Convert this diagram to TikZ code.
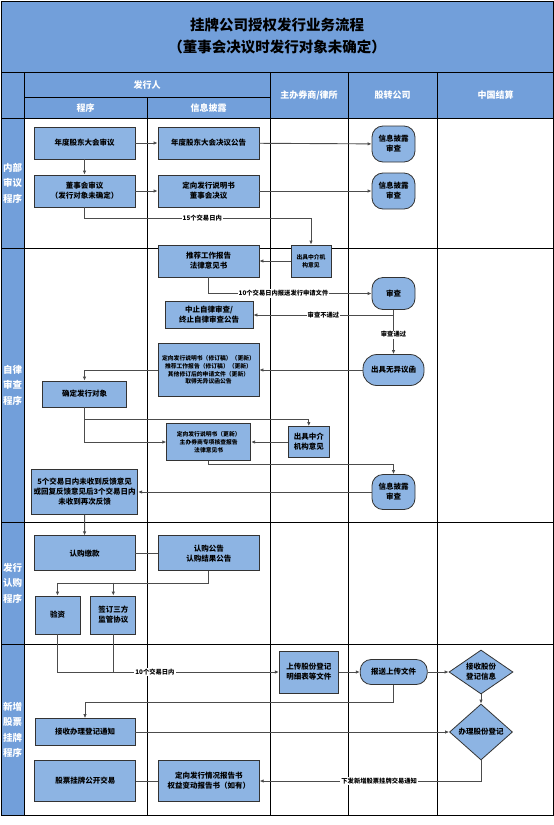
\documentclass[tikz,border=0pt]{standalone}
\usepackage{fontspec}
\setmainfont{Noto Sans CJK SC}
\usetikzlibrary{shapes.geometric,arrows.meta}
\definecolor{headblue}{RGB}{114,159,218}
\definecolor{boxblue}{RGB}{141,180,227}

\begin{document}
\begin{tikzpicture}[x=1pt,y=-1pt,
  box/.style={draw=black!80,fill=boxblue,line width=0.8pt,inner sep=1pt,align=center,
    font=\fontsize{7.5}{10}\selectfont\bfseries},
  rbox/.style={box,rounded corners=11pt},
  dbox/.style={box,diamond,aspect=1.3},
  small/.style={font=\fontsize{5.8}{7.8}\selectfont\bfseries},
  lbl/.style={fill=white,inner sep=1pt,font=\fontsize{6.3}{7}\selectfont\bfseries},
  hd/.style={text=white,font=\fontsize{9}{11}\selectfont\bfseries},
  side/.style={text=white,align=center,font=\fontsize{9.5}{15.5}\selectfont\bfseries},
  line/.style={draw=black!70,line width=0.9pt},
  arr/.style={line,-{Latex[length=4pt,width=3.5pt]}}]
  \useasboundingbox (0,0) rectangle (554,825);
  % lanes
  \fill[headblue] (1,1) rectangle (553,118);
  \fill[headblue] (1,118) rectangle (24,815);
  \draw[line width=0.8pt] (1,1) rectangle (553,815);
  \draw (1,72) -- (553,72);
  \draw (24,97) -- (270,97);
  \draw (1,118) -- (553,118);
  \foreach \y in {248,522,644} \draw (1,\y) -- (553,\y);
  \foreach \x in {24,270,348,437} \draw (\x,72) -- (\x,815);
  \draw (147,97) -- (147,815);
  \node[align=center,font=\fontsize{14.5}{22}\selectfont\bfseries] (title) at (277,36)
    {挂牌公司授权发行业务流程\\（董事会决议时发行对象未确定）};
  \node[hd] (hfxr) at (147,85) {发行人};
  \node[hd] (hcx) at (85.5,108) {程序};
  \node[hd] (hxp) at (208.5,108) {信息披露};
  \node[hd] (hqs) at (309,95) {主办券商/律所};
  \node[hd] (hgz) at (392.5,95) {股转公司};
  \node[hd] (hjs) at (495.5,95) {中国结算};
  \node[side] (rnb) at (12.5,183) {内部\\审议\\程序};
  \node[side] (rzl) at (12.5,385) {自律\\审查\\程序};
  \node[side] (rrg) at (12.5,583) {发行\\认购\\程序};
  \node[side] (rgp) at (12.5,730) {新增\\股票\\挂牌\\程序};

  % internal review
  \node[box,minimum width=101,minimum height=32] (ndgd) at (84.5,143) {年度股东大会审议};
  \node[box,minimum width=101,minimum height=32] (ndgg) at (208.5,143) {年度股东大会决议公告};
  \node[rbox,minimum width=43,minimum height=36] (xpsc1) at (393.5,144) {信息披露\\审查};
  \node[box,minimum width=101,minimum height=32] (dsh) at (84.5,191) {董事会审议\\（发行对象未确定）};
  \node[box,minimum width=101,minimum height=32] (dxsm) at (208.5,191) {定向发行说明书\\董事会决议};
  \node[rbox,minimum width=43,minimum height=36] (xpsc2) at (393.5,191) {信息披露\\审查};
  % self-regulatory review
  \node[box,small,minimum width=40,minimum height=32] (zjyj1) at (311,261) {出具中介机\\构意见};
  \node[box,minimum width=101,minimum height=32] (tjbg) at (208.5,261) {推荐工作报告\\法律意见书};
  \node[rbox,minimum width=43,minimum height=32] (shc) at (393.5,293.5) {审查};
  \node[box,minimum width=88,minimum height=27] (zzsc) at (209,315) {中止自律审查/\\终止自律审查公告};
  \node[rbox,rounded corners=14pt,minimum width=61,minimum height=31] (wyyh) at (393.5,370) {出具无异议函};
  \node[box,small,minimum width=101,minimum height=53] (xdsm) at (208.5,370)
    {定向发行说明书（修订稿）（更新）\\推荐工作报告（修订稿）（更新）\\其他修订后的申请文件（更新）\\取得无异议函公告};
  \node[box,minimum width=84,minimum height=26] (qdfx) at (84.5,394) {确定发行对象};
  \node[box,small,minimum width=84,minimum height=37] (gxsm) at (208.7,442)
    {定向发行说明书（更新）\\主办券商专项核查报告\\法律意见书};
  \node[box,minimum width=41,minimum height=31] (zjyj2) at (308.8,442) {出具中介\\机构意见};
  \node[rbox,minimum width=43,minimum height=35] (xpsc3) at (393.5,492) {信息披露\\审查};
  \node[box,minimum width=106,minimum height=45] (fkyj) at (84.7,492)
    {5个交易日内未收到反馈意见\\或回复反馈意见后3个交易日内\\未收到再次反馈};
  % subscription
  \node[box,minimum width=101,minimum height=35] (rgjk) at (84.5,553.3) {认购缴款};
  \node[box,minimum width=101,minimum height=35] (rggg) at (208.8,553.3) {认购公告\\认购结果公告};
  \node[box,minimum width=45,minimum height=38] (yanzi) at (57.5,615) {验资};
  \node[box,minimum width=45,minimum height=38] (qdxy) at (113.3,615) {签订三方\\监管协议};
  % listing
  \node[box,minimum width=59,minimum height=42] (scdj) at (308.8,672) {上传股份登记\\明细表等文件};
  \node[rbox,minimum width=67,minimum height=25] (bssc) at (393.7,672) {报送上传文件};
  \node[dbox,minimum width=64,minimum height=44] (jsdj) at (481,672) {接收股份\\登记信息};
  \node[dbox,minimum width=63,minimum height=56] (blgf) at (481,732) {办理股份登记};
  \node[box,minimum width=100,minimum height=27] (jstz) at (85,732) {接收办理登记通知};
  \node[box,minimum width=101,minimum height=41] (qkbg) at (208.8,781) {定向发行情况报告书\\权益变动报告书（如有）};
  \node[box,minimum width=101,minimum height=41] (gpjy) at (85.3,781) {股票挂牌公开交易};

  \draw[arr] (ndgd) -- (ndgg);
  \draw[arr] (ndgg) -- (xpsc1);
  \draw[arr] (ndgd) -- (dsh);
  \draw[arr] (dsh) -- (dxsm);
  \draw[arr] (dxsm) -- (xpsc2);
  \draw[arr] (dsh.south) -- ++(0,11) -| node[lbl,pos=0.26]{15个交易日内} (zjyj1.north);
  \draw[arr] (zjyj1) -- (tjbg);
  \draw[arr] (tjbg.south) |- node[lbl,pos=0.73]{10个交易日内报送发行申请文件} (shc);
  \coordinate (jd1) at (393.5,315);
  \draw[line] (shc) -- (jd1);
  \draw[arr] (jd1) -- node[lbl]{审查不通过} (zzsc);
  \draw[arr] (jd1) -- node[lbl]{审查通过} (wyyh);
  \draw[arr] (wyyh) -- (xdsm);
  \draw[arr] (xdsm) -| (qdfx);
  \draw[arr] (qdfx) |- (gxsm);
  \coordinate (jd2) at (84.5,419.3);
  \draw[arr] (jd2) -| (zjyj2);
  \draw[arr] (zjyj2) -- (gxsm);
  \draw[arr] (gxsm.south) -- ++(0,4) -| (xpsc3);
  \draw[arr] (xpsc3) -- (fkyj);
  \draw[arr] (fkyj) -- (rgjk);
  \draw[line] (rgjk) -- (rggg);
  \draw[arr] (rggg.south) -- ++(0,12) -| (yanzi);
  \coordinate (jd3) at (113.3,582.7);
  \draw[arr] (jd3) -- (qdxy);
  \coordinate (jd4) at (113.3,672);
  \draw[line] (qdxy) -- (jd4);
  \draw[arr] (yanzi) |- node[lbl,pos=0.72]{10个交易日内} (scdj);
  \draw[arr] (scdj) -- (bssc);
  \draw[arr] (bssc) -- (jsdj);
  \draw[arr] (jsdj) -- (blgf);
  \draw[arr] (bssc.south) -- ++(0,17.4) -| (jstz);
  \draw[arr] (jstz) -- (blgf);
  \draw[arr] (blgf) |- node[lbl,pos=0.73]{下发新增股票挂牌交易通知} (qkbg);
  \draw[line] (qkbg) -- (gpjy);
\end{tikzpicture}
\end{document}
